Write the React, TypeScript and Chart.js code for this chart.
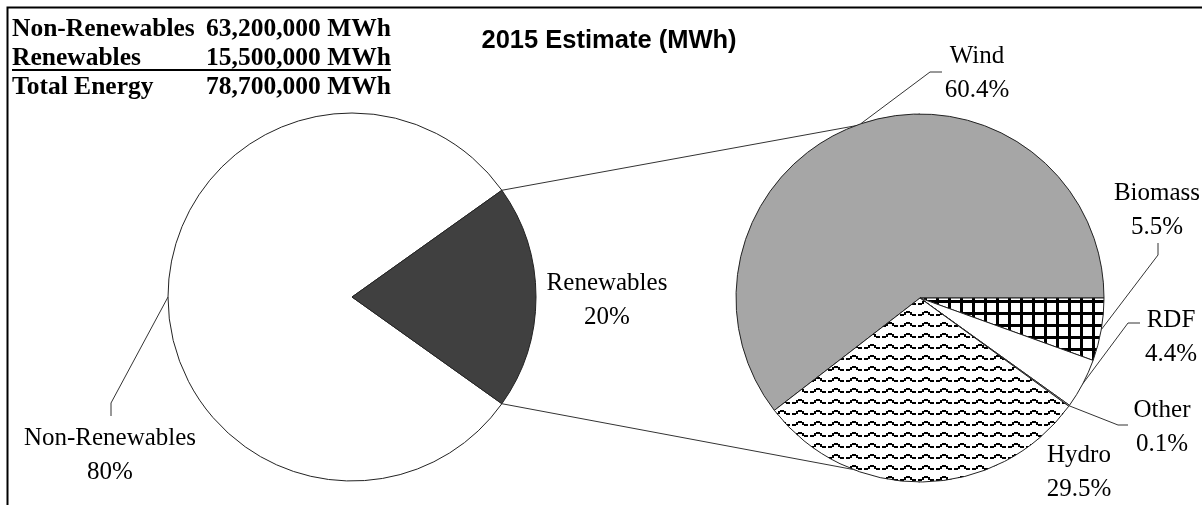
import React, { useEffect, useRef } from "react";
import { Chart, registerables } from "chart.js";

Chart.register(...registerables);

// ---------------- data ----------------
const mainCategories = ["Non-Renewables", "Renewables"];
const mainValues = [63200000, 15500000]; // MWh
const renewCategories = ["Wind", "Biomass", "RDF", "Other", "Hydro"];
const renewPercents = [60.4, 5.5, 4.4, 0.1, 29.5]; // % of renewables
const summaryNames = ["Non-Renewables", "Renewables", "Total Energy"];
const summaryMWh = [63200000, 15500000, 78700000];
const chartTitle = "2015 Estimate (MWh)";

// ---------------- layout / style ----------------
const W = 1202;
const H = 505;
const R = 184;
const leftCenter = { x: 352, y: 297 };
const rightCenter = { x: 920, y: 298 };
const LABEL_FONT = '25px "Liberation Serif", "Times New Roman", serif';
const SUMMARY_FONT = 'bold 25.5px "Liberation Serif", "Times New Roman", serif';
const TITLE_FONT = 'bold 25.5px "Liberation Sans", Arial, sans-serif';
const LINE_GAP = 34;
const LINE_COLOR = "#333";

type LabelSpec = { cx: number; y: number; leader?: [number, number][] };
const labelLayout: Record<string, LabelSpec> = {
  "Non-Renewables": { cx: 110, y: 445, leader: [[111, 403], [111, 416]] },
  Renewables: { cx: 607, y: 290 },
  Wind: { cx: 977, y: 63, leader: [[930, 72], [942, 72]] },
  Biomass: { cx: 1157, y: 200, leader: [[1158, 255], [1158, 243]] },
  RDF: { cx: 1171, y: 327, leader: [[1128, 323], [1140, 323]] },
  Other: { cx: 1162, y: 417, leader: [[1118, 425], [1128, 425]] },
  Hydro: { cx: 1079, y: 462 },
};

function padFor(c: { x: number; y: number }) {
  const half = R + 6;
  return { left: c.x - half, right: W - c.x - half, top: c.y - half, bottom: H - c.y - half };
}

function gridPattern(ctx: CanvasRenderingContext2D) {
  const c = document.createElement("canvas");
  c.width = 12;
  c.height = 12;
  const g = c.getContext("2d")!;
  g.fillStyle = "#fff";
  g.fillRect(0, 0, 12, 12);
  g.fillStyle = "#000";
  g.fillRect(0, 0, 12, 3);
  g.fillRect(0, 0, 3, 12);
  return ctx.createPattern(c, "repeat")!;
}

function wavePattern(ctx: CanvasRenderingContext2D) {
  const c = document.createElement("canvas");
  c.width = 18;
  c.height = 11;
  const g = c.getContext("2d")!;
  g.fillStyle = "#fff";
  g.fillRect(0, 0, 18, 11);
  g.fillStyle = "#000";
  g.fillRect(0, 6, 4, 2);
  g.fillRect(4, 4, 2, 3);
  g.fillRect(6, 3, 4, 2);
  g.fillRect(10, 4, 2, 3);
  g.fillRect(12, 6, 4, 2);
  return ctx.createPattern(c, "repeat")!;
}

function edgePoint(el: any, angle: number) {
  return { x: el.x + el.outerRadius * Math.cos(angle), y: el.y + el.outerRadius * Math.sin(angle) };
}

function drawLabel(ctx: CanvasRenderingContext2D, el: any, name: string, pct: string) {
  const spec = labelLayout[name];
  if (!spec) return;
  if (spec.leader) {
    const mid = (el.startAngle + el.endAngle) / 2;
    const p = edgePoint(el, mid);
    ctx.beginPath();
    ctx.moveTo(p.x, p.y);
    spec.leader.forEach(([x, y]) => ctx.lineTo(x, y));
    ctx.strokeStyle = LINE_COLOR;
    ctx.lineWidth = 1;
    ctx.stroke();
  }
  ctx.font = LABEL_FONT;
  ctx.fillStyle = "#000";
  ctx.textAlign = "center";
  ctx.textBaseline = "alphabetic";
  ctx.fillText(name, spec.cx, spec.y);
  ctx.fillText(pct, spec.cx, spec.y + LINE_GAP);
}

export default function App() {
  const leftRef = useRef<HTMLCanvasElement>(null);
  const rightRef = useRef<HTMLCanvasElement>(null);

  useEffect(() => {
    document.documentElement.style.overflow = "hidden";
    const lc = leftRef.current!;
    const rc = rightRef.current!;
    const rctx = rc.getContext("2d")!;

    const mainTotal = mainValues.reduce((a, b) => a + b, 0);
    const renSpan = (360 * mainValues[1]) / mainTotal;
    const renewTotal = renewPercents.reduce((a, b) => a + b, 0);
    const windSpan = (360 * renewPercents[0]) / renewTotal;

    const left = new Chart(lc, {
      type: "pie",
      data: {
        labels: mainCategories,
        datasets: [
          {
            data: mainValues,
            backgroundColor: ["#ffffff", "#404040"],
            borderColor: "#222",
            borderWidth: 1,
            hoverOffset: 0,
            rotation: 90 + renSpan / 2,
            radius: R,
          } as any,
        ],
      },
      options: {
        responsive: false,
        animation: false,
        events: [],
        layout: { padding: padFor(leftCenter) },
        plugins: { legend: { display: false }, tooltip: { enabled: false } },
      },
    });

    const overlay = {
      id: "overlay",
      beforeDatasetsDraw(chart: any) {
        const ctx: CanvasRenderingContext2D = chart.ctx;
        const renEl: any = left.getDatasetMeta(0).data[1];
        const rEl: any = chart.getDatasetMeta(0).data[0];
        const a = edgePoint(renEl, renEl.startAngle);
        const b = edgePoint(renEl, renEl.endAngle);
        ctx.save();
        ctx.strokeStyle = LINE_COLOR;
        ctx.lineWidth = 1;
        ctx.beginPath();
        ctx.moveTo(a.x, a.y);
        ctx.lineTo(rEl.x, rEl.y - rEl.outerRadius);
        ctx.moveTo(b.x, b.y);
        ctx.lineTo(rEl.x, rEl.y + rEl.outerRadius);
        ctx.stroke();
        ctx.restore();
      },
      afterDatasetsDraw(chart: any) {
        const ctx: CanvasRenderingContext2D = chart.ctx;
        ctx.save();
        const lMeta = left.getDatasetMeta(0);
        mainCategories.forEach((name, i) => {
          const pct = Math.round((mainValues[i] / mainTotal) * 100) + "%";
          drawLabel(ctx, lMeta.data[i], name, pct);
        });
        const rMeta = chart.getDatasetMeta(0);
        renewCategories.forEach((name, i) => {
          drawLabel(ctx, rMeta.data[i], name, renewPercents[i].toFixed(1) + "%");
        });
        // title
        ctx.font = TITLE_FONT;
        ctx.textAlign = "center";
        ctx.fillStyle = "#000";
        ctx.fillText(chartTitle, 609, 48);
        // summary box text
        ctx.font = SUMMARY_FONT;
        ctx.textAlign = "left";
        summaryNames.forEach((n, i) => {
          const y = 36 + i * 29;
          const num = summaryMWh[i].toLocaleString("en-US") + " MWh";
          ctx.fillText(n, 12, y);
          ctx.fillText(num, 206, y);
          if (i === 1) {
            const end = 206 + ctx.measureText(num).width;
            ctx.fillRect(12, y + 4, end - 12, 2);
          }
        });
        // frame
        ctx.strokeStyle = "#000";
        ctx.lineWidth = 2;
        ctx.beginPath();
        ctx.moveTo(7.5, H);
        ctx.lineTo(7.5, 7.5);
        ctx.lineTo(W, 7.5);
        ctx.stroke();
        ctx.restore();
      },
    };

    const right = new Chart(rc, {
      type: "pie",
      data: {
        labels: renewCategories,
        datasets: [
          {
            data: renewPercents,
            backgroundColor: ["#a6a6a6", gridPattern(rctx), "#ffffff", "#ffffff", wavePattern(rctx)],
            borderColor: "#222",
            borderWidth: 1,
            hoverOffset: 0,
            rotation: 90 - windSpan,
            radius: R,
          } as any,
        ],
      },
      options: {
        responsive: false,
        animation: false,
        events: [],
        layout: { padding: padFor(rightCenter) },
        plugins: { legend: { display: false }, tooltip: { enabled: false } },
      },
      plugins: [overlay],
    });

    return () => {
      right.destroy();
      left.destroy();
    };
  }, []);

  const cs: React.CSSProperties = { position: "absolute", left: 0, top: 0, width: W, height: H };
  return (
    <div style={{ position: "fixed", left: 0, top: 0, width: W, height: H, background: "#fff" }}>
      <canvas ref={leftRef} width={W} height={H} style={cs} />
      <canvas ref={rightRef} width={W} height={H} style={cs} />
    </div>
  );
}
